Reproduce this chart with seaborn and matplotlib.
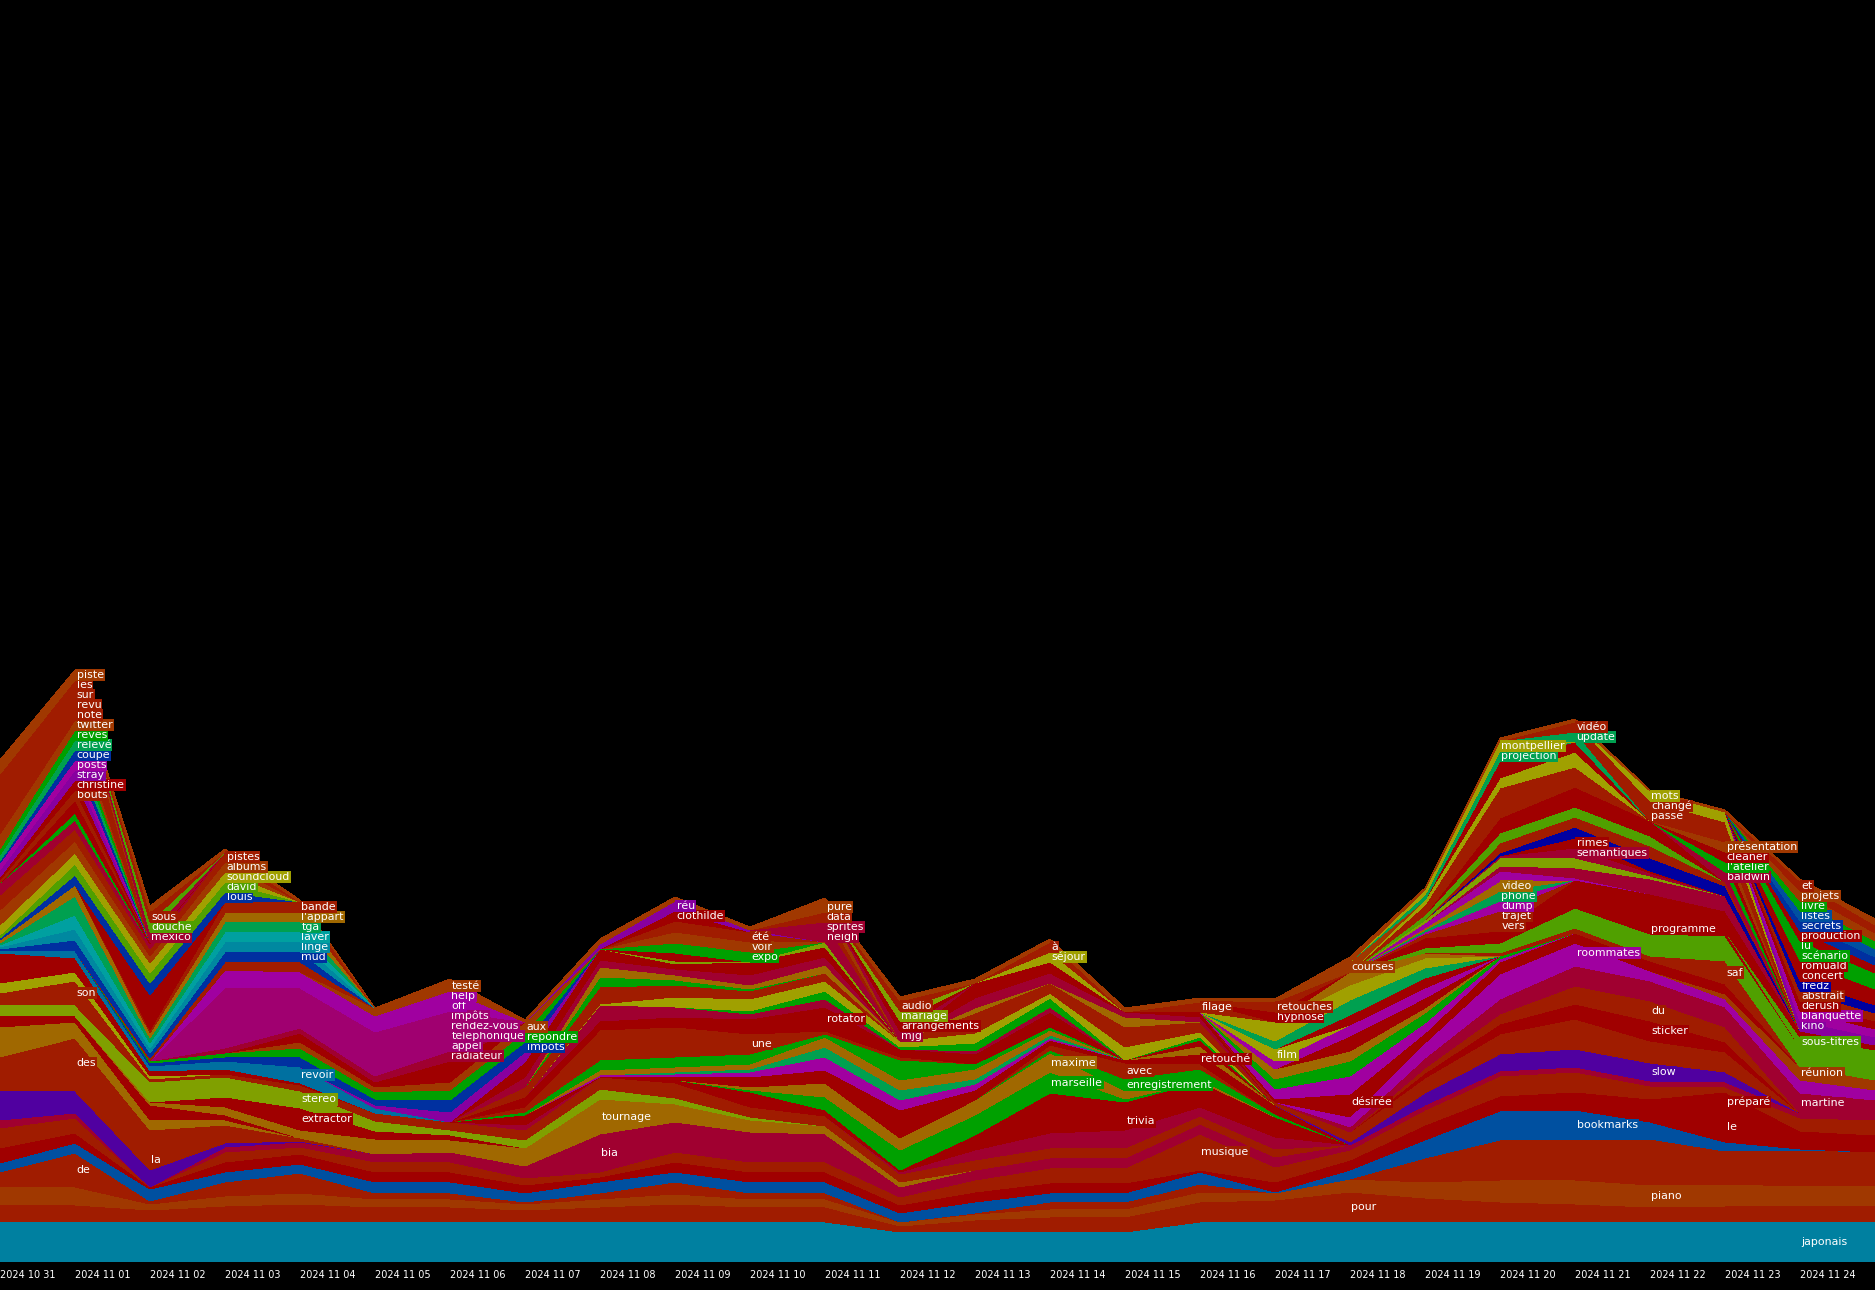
import numpy as np
import pandas as pd
import matplotlib
matplotlib.use("Agg")
import matplotlib.pyplot as plt
import seaborn as sns

# one column per day, 10 31 .. 11 24 plus the edge on the right
n_days = 26
dates = pd.date_range("2024-10-31", periods=25).strftime("%Y %m %d").tolist()

colours = {
    "jp": "#0080a0", "ru": "#a01c00", "or": "#a03800", "r": "#a00000",
    "cr": "#a00030", "am": "#a06800", "ol": "#a0a000", "yg": "#80a000",
    "lg": "#50a000", "g": "#00a000", "gt": "#00a050", "te": "#00a0a0",
    "cy": "#0088a0", "cb": "#0070a0", "bl": "#0050a0", "nv": "#0030a0",
    "in": "#0000a0", "vi": "#5000a0", "pu": "#8800a0", "mg": "#a000a0",
    "mr": "#a00070",
}

# (word, colour, day of the label or None, counts) -- bottom to top
bottom_layers = [
    ("japonais", "jp", 24, [4,4,4,4,4,4,4,4,4,4,4,4,3,3,3,3,4,4,4,4,4,4,4,4,4,4]),
    ("pour", "ru", 18, [1.7,1.7,1.2,1.6,1.8,1.5,1.5,1.2,1.5,1.8,1.5,1.5,0.6,1.2,1.5,1.5,2,2.2,3,2.4,2,1.8,1.5,1.6,1.6,1.6]),
    ("piano", "or", 22, [1.8,1.8,0.6,1,1.1,0.8,0.8,0.6,0.8,1,0.8,0.8,0.4,0.6,0.8,0.8,1,0.7,1.3,1.6,2.2,2.4,2.2,2.2,2,2]),
    ("de", "ru", 1, [1.5,3.4,0.3,1.4,2,0.6,0.6,0.2,0.6,1.2,0.6,0.6,0,0.1,0.7,0.7,0.8,0,0,2.4,4,4,4.6,3.3,3.6,3.4]),
    ("bookmarks", "bl", 21, [0.9,1,1.2,1,0.9,1.1,1.1,0.9,1.1,1,1.1,1.1,0.9,1.1,0.9,0.9,1.2,0.1,0.9,1.8,2.9,3,1.7,0.9,0.1,0]),
    ("le", "r", 23, [1.5,1,0.2,1,1,1,1,0.8,0.5,1,1,1,0.8,1,1,1,0.2,1,1,1.5,1.5,1.5,1.5,3,1.5,1.5]),
    ("préparé", "r", 23, {21: 0.3, 22: 0.8, 23: 2.0, 24: 0.3, 25: 0.2}),
    ("musique", "ru", 16, [2,1.5,0,1,0.7,1,1,0.7,0.5,1,1,1,0.8,1.2,1.5,1.5,3.6,1.5,1,1.5,2,2,1.3,0.5,1.3,1.5]),
    ("bia", "cr", 8, [0.8,0.5,0,0.5,0.5,0.8,1,1.2,3.8,3,3,2.8,1,1,1,1,1,1,0.5,0.5,0.5,0.5,0.5,0.5,0.5,0.5]),
    ("vi_a", "vi", None, {0: 3.0, 1: 2.2, 2: 1.7, 3: 0.4, 4: 0.1}),
    ("la", "ru", 2, {0: 0.3, 1: 0.3, 2: 2.0, 3: 0.8, 4: 0.3}),
    ("des", "ru", 1, {0: 3.0, 1: 5.0, 2: 2.0, 3: 1.0}),
    ("am_b", "am", None, {0: 3.0, 1: 1.6, 2: 1.0, 3: 0.5}),
    ("r_b", "r", None, {0: 1.2, 1: 0.6, 2: 1.5, 3: 0.5}),
    ("tournage", "am", 8, {2: 0.3, 3: 0.8, 4: 0.8, 5: 1.5, 6: 1.2, 7: 1.8, 8: 3.5, 9: 1.8, 10: 1.2, 11: 0.8, 12: 0.5}),
    ("extractor", "r", 4, {3: 1.0, 4: 2.2, 5: 0.8, 6: 0.5}),
    ("stereo", "yg", 4, {0: 1.0, 1: 1.1, 2: 2.0, 3: 2.0, 4: 1.7, 5: 1.0, 6: 0.5, 7: 0.8, 8: 1.0, 9: 0.6, 10: 0.3}),
    ("r_c", "ru", None, {3: 0.3, 4: 0.6, 5: 0.8, 6: 0.8, 7: 1.0, 8: 1.2, 9: 1.5, 10: 1.0, 11: 1.0, 12: 0.8, 13: 1.0, 14: 1.0, 15: 1.0, 16: 0.8, 17: 0.8}),
]

middle_layers = [
    ("ml_cr", "cr", None, {7: 0.5, 12: 0.2, 13: 1.0, 14: 1.5, 15: 1.8, 16: 0.9, 17: 1.2}),
    ("trivia", "r", 15, {13: 0.5, 14: 1.0, 15: 1.7, 16: 0.5, 17: 0.5}),
    ("ml_r1", "r", None, {7: 0.5, 9: 0.3, 10: 1.5, 11: 0.6, 12: 0.2, 13: 1.0, 14: 3.0, 15: 1.1, 16: 2.0, 17: 1.5}),
    ("marseille", "g", 14, {10: 0.2, 11: 1.3, 12: 2.0, 13: 2.0, 14: 2.1, 15: 0.3}),
    ("maxime", "am", 14, {10: 0.3, 11: 1.4, 12: 1.2, 13: 1.5, 14: 1.9, 15: 0.8, 16: 0.3}),
    ("enregistrement", "g", 15, {14: 0.3, 15: 1.2, 16: 1.0, 17: 0.3}),
    ("avec", "ru", 15, {14: 0.5, 15: 1.6, 16: 0.5}),
    ("retouché", "r", 16, {16: 1.0, 17: 0.4}),
    ("ml_r2", "r", None, {7: 0.5, 9: 0.3, 10: 1.0, 11: 1.3, 12: 2.8, 13: 1.0, 14: 0.5, 15: 0.3, 17: 0.5}),
    ("mg_m", "mg", None, {8: 0.2, 9: 0.3, 10: 0.5, 11: 1.3, 12: 1.0, 13: 0.6, 14: 0.2}),
    ("ml_gt", "gt", None, {9: 0.2, 10: 0.3, 11: 1.0, 12: 1.0, 13: 0.5, 14: 0.3}),
    ("ml_am", "am", None, {8: 0.5, 9: 0.5, 10: 0.5, 11: 1.0, 12: 1.0, 13: 1.0, 14: 0.5, 16: 0.8}),
    ("ml_g", "g", None, {7: 0.3, 8: 1.0, 9: 1.0, 10: 1.0, 11: 0.3, 12: 2.0, 13: 0.5, 14: 0.3}),
    ("une", "ru", 10, {7: 0.5, 8: 3.0, 9: 3.0, 10: 2.0, 11: 0.3, 12: 0.3}),
    ("rotator", "r", 11, {10: 0.3, 11: 2.4, 12: 0.3}),
    ("ml_r3", "r", None, {7: 1.0, 8: 0.9, 9: 1.0, 10: 1.2, 12: 0.5, 13: 1.0, 14: 1.5, 16: 0.6}),
    ("ml_cr2", "cr", None, {8: 1.6, 9: 1.0, 10: 0.5, 11: 0.8, 13: 0.3, 14: 0.5}),
    ("ml_g2", "g", None, {10: 0.3, 11: 0.8, 12: 0.2, 13: 0.8, 14: 0.9, 16: 0.3}),
    ("ml_ol", "ol", None, {8: 0.1, 9: 1.0, 10: 1.2, 11: 1.0, 12: 0.6, 13: 1.0, 14: 0.5, 15: 1.3, 16: 0.5}),
    ("ml_r4", "ru", None, {7: 1.0, 8: 1.7, 9: 1.2, 10: 0.8, 11: 0.8, 13: 2.0, 14: 1.0, 15: 2.0, 16: 1.0}),
    ("ml_g3", "g", None, {8: 1.0, 9: 0.5, 10: 0.2}),
    ("ml_am2", "am", None, {8: 1.0, 9: 0.5, 10: 0.4, 11: 0.8, 13: 0.5, 15: 1.0}),
    ("ml_cr3", "cr", None, {7: 1.0, 8: 0.7, 9: 0.6, 10: 1.0, 11: 0.8, 13: 1.0, 14: 1.0, 15: 0.5, 16: 0.5}),
    ("ml_r5", "r", None, {7: 0.9, 8: 1.1, 9: 0.5, 10: 1.3, 11: 1.0, 13: 1.5, 14: 1.1, 16: 0.5}),
    ("ml_yg", "yg", None, {9: 0.3, 11: 0.5}),
    ("ml_r6", "r", None, {9: 0.8}),
]

right_layers = [
    ("slow", "vi", 22, {18: 0.3, 19: 1.2, 20: 1.7, 21: 1.8, 22: 1.8, 23: 1.0}),
    ("r_s", "ru", None, {17: 0.3, 18: 1.0, 19: 1.5, 20: 2.0, 21: 3.0, 22: 2.2, 23: 2.0}),
    ("sticker", "r", 22, {19: 0.5, 20: 1.0, 21: 1.5, 22: 2.0, 23: 1.0}),
    ("du", "ru", 22, {19: 0.5, 20: 1.0, 21: 1.8, 22: 2.0, 23: 1.5}),
    ("cr_r", "cr", None, {18: 0.5, 19: 1.0, 20: 1.5, 21: 2.0, 22: 2.0, 23: 1.5}),
    ("martine", "cr", 24, {23: 0.5, 24: 2.0, 25: 1.5}),
    ("mg_r2", "mg", None, {18: 1.0, 19: 1.0, 20: 1.5, 21: 0.3, 22: 0.5, 23: 0.8, 24: 1.3, 25: 1.0}),
    ("roommates", "mg", 21, {19: 0.5, 20: 1.0, 21: 2.0, 22: 0.5}),
    ("réunion", "or", 24, {23: 0.5, 24: 1.3, 25: 1.0}),
    ("r_r3", "r", None, {18: 0.7, 19: 0.5, 20: 1.0, 21: 1.0, 22: 1.0, 23: 1.0}),
    ("désirée", "r", 18, {17: 0.3, 18: 1.6, 19: 0.5, 20: 0.2}),
    ("mg_r12", "mg", None, {17: 1.0, 18: 1.8, 19: 1.0, 20: 0.3}),
    ("gr_r13", "g", None, {17: 1.0, 18: 1.5, 19: 1.0, 20: 0.3}),
    ("am_r14", "am", None, {17: 1.0, 18: 1.0, 19: 0.5}),
    ("r_r15", "r", None, {18: 1.5, 19: 1.0}),
    ("mg_r16", "mg", None, {17: 0.8, 18: 1.1, 19: 1.0}),
    ("film", "ol", 17, {17: 1.2}),
    ("r_r17", "r", None, {18: 1.0, 19: 1.0}),
    ("gr_r18", "gt", None, {17: 0.8, 18: 1.5, 19: 1.0}),
    ("ol_r19", "ol", None, {17: 1.9, 18: 1.5, 19: 1.0}),
    ("am_r20", "am", None, {18: 1.3, 19: 0.5}),
    ("saf", "ru", 23, {20: 0.3, 21: 0.5, 22: 0.5, 23: 2.3}),
    ("lime_r", "lg", None, {19: 0.5, 20: 1.0, 21: 2.0, 22: 2.2, 23: 2.5, 24: 2.0, 25: 1.5}),
    ("programme", "r", 22, {20: 0.5, 21: 0.8, 22: 1.0, 23: 0.5}),
    ("sous-titres", "lg", 24, {24: 1.0, 25: 1.5}),
    ("r_r4", "r", None, {19: 1.0, 20: 0.7, 21: 2.0, 22: 3.0, 23: 2.0, 24: 0.6, 25: 0.5}),
    ("vers", "ru", 20, {19: 0.2, 20: 1.0}),
    ("trajet", "ru", 20, {19: 0.2, 20: 1.0}),
    ("dump", "mg", 20, {19: 0.2, 20: 1.0}),
    ("phone", "gt", 20, {19: 0.2, 20: 1.0}),
    ("video", "am", 20, {19: 0.2, 20: 1.0}),
    ("mg_r11", "mg", None, {19: 0.5, 20: 1.0, 21: 0.2}),
    ("cr_r4", "cr", None, {20: 0.5, 21: 1.0, 22: 1.5, 23: 1.5}),
    ("lime2", "yg", None, {19: 0.3, 20: 0.8, 21: 1.0, 22: 0.3}),
    ("sémantiques", "cr", 21, {20: 0.2, 21: 1.0, 22: 0.3}),
    ("rimes", "r", 21, {21: 1.0, 22: 0.2}),
    ("navy_r", "in", None, {20: 0.3, 21: 1.1, 22: 1.3, 23: 1.0}),
    ("r_r5", "ru", None, {20: 1.0, 21: 1.0, 22: 1.2, 23: 0.4}),
    ("gr_r6", "lg", None, {19: 0.5, 20: 1.0, 21: 1.0, 22: 1.0}),
    ("r_r7", "r", None, {20: 1.5, 21: 2.0, 22: 1.5}),
    ("r_r8", "ru", None, {19: 1.0, 20: 3.0, 21: 2.0}),
    ("ol_r9", "ol", None, {19: 0.5, 20: 1.0, 21: 1.5}),
    ("r_r10", "r", None, {20: 1.7, 21: 1.0}),
]

left_layers = [
    ("son", "ru", 1, {0: 1.2, 1: 2.4, 2: 0.3}),
    ("ol_c", "ol", None, {0: 1.0, 1: 0.9, 2: 0.3}),
    ("r_d", "r", None, {0: 3.0, 1: 1.4, 2: 0.5, 3: 0.5, 4: 0.2, 7: 0.6}),
    ("revoir", "cb", 4, {0: 0.2, 1: 0.7, 2: 0.5, 3: 0.8, 4: 1.6, 5: 0.5}),
    ("pu_l", "pu", None, {5: 0.3, 6: 1.0, 7: 1.0}),
    ("impots", "nv", 7, {2: 0.3, 3: 0.4, 4: 1.0, 5: 0.6, 6: 1.2, 7: 1.0}),
    ("répondre", "g", 7, {2: 0.2, 3: 0.4, 4: 0.9, 5: 0.7, 6: 1.0, 7: 1.0}),
    ("aux", "or", 7, {4: 0.6, 5: 0.5, 6: 0.8, 7: 1.0}),
    ("red_e", "r", None, {4: 0.9, 5: 0.5, 6: 2.1}),
    ("radiateur", "cr", 6, {3: 0.5, 4: 0.5, 5: 0.6, 6: 1.0}),
    ("appel", "mr", 6, {3: 1.5, 4: 1.0, 5: 1.1, 6: 1.0}),
    ("téléphonique", "mr", 6, {3: 1.5, 4: 1.0, 5: 1.1, 6: 1.0}),
    ("rendez-vous", "mr", 6, {3: 1.5, 4: 1.0, 5: 1.1, 6: 1.0}),
    ("impôts", "mr", 6, {3: 1.5, 4: 1.0, 5: 1.1, 6: 1.0}),
    ("off", "mg", 6, {3: 1.5, 4: 0.8, 5: 0.8, 6: 1.0}),
    ("help", "mg", 6, {3: 0.3, 4: 0.8, 5: 0.8, 6: 1.0}),
    ("testé", "or", 6, {5: 0.8, 6: 1.0}),
    ("r_f", "ru", None, {2: 0.3, 3: 0.8, 4: 1.0}),
    ("mud", "nv", 4, {0: 0.2, 1: 1.1, 2: 0.5, 3: 1.0, 4: 1.0}),
    ("linge", "cy", 4, {0: 0.2, 1: 1.1, 2: 0.5, 3: 1.0, 4: 1.0}),
    ("laver", "te", 4, {0: 0.2, 1: 1.4, 2: 0.5, 3: 1.0, 4: 1.0}),
    ("tga", "gt", 4, {0: 0.2, 1: 1.9, 2: 0.5, 3: 1.0, 4: 1.0}),
    ("l'appart", "am", 4, {0: 0.3, 1: 1.1, 2: 0.5, 3: 0.9, 4: 1.0}),
    ("bande", "ru", 4, {2: 0.3, 3: 1.1, 4: 1.0}),
    ("r_ul", "r", None, {2: 3.5}),
    ("louis", "nv", 3, {0: 0.2, 1: 1.0, 2: 1.2, 3: 1.0}),
    ("david", "lg", 3, {0: 0.3, 1: 1.1, 2: 1.0, 3: 1.0}),
    ("soundcloud", "ol", 3, {0: 1.0, 1: 1.1, 2: 1.0, 3: 1.0}),
    ("albums", "or", 3, {0: 1.5, 1: 1.2, 2: 0.7, 3: 1.0}),
    ("pistes", "ru", 3, {0: 1.5, 1: 1.2, 2: 0.7, 3: 1.0}),
    ("r_g", "cr", None, {0: 1.2, 1: 0.9, 2: 0.5}),
    ("gr_h", "g", None, {1: 0.7}),
    ("r_h", "r", None, {1: 1.3, 2: 0.2}),
    ("bouts", "ru", 1, {0: 0.3, 1: 1.0}),
    ("christine", "r", 1, {0: 0.3, 1: 1.0}),
    ("stray", "pu", 1, {0: 0.7, 1: 1.0}),
    ("posts", "mg", 1, {0: 0.7, 1: 1.0}),
    ("coupé", "nv", 1, {0: 0.2, 1: 1.0}),
    ("relevé", "gt", 1, {0: 0.6, 1: 1.0}),
    ("rêves", "g", 1, {0: 0.6, 1: 1.0}),
    ("twitter", "or", 1, {0: 1.5, 1: 1.0}),
    ("noté", "ru", 1, {0: 1.5, 1: 1.0}),
    ("revu", "ru", 1, {0: 1.5, 1: 1.0}),
    ("sur", "ru", 1, {0: 1.5, 1: 1.0}),
    ("les", "ru", 1, {0: 1.5, 1: 1.0}),
    ("piste", "or", 1, {0: 1.4, 1: 1.0}),
    ("mexico", "cr", 2, {2: 1.0}),
    ("douche", "lg", 2, {2: 1.0}),
    ("sous", "ru", 2, {2: 1.0}),
]

peak_layers = [
    ("expo", "g", 10, {9: 1.0, 10: 1.0}),
    ("voir", "or", 10, {9: 1.1, 10: 1.0}),
    ("été", "ru", 10, {9: 1.1, 10: 1.0}),
    ("clothilde", "r", 9, {9: 1.0}),
    ("réu", "pu", 9, {8: 0.5, 9: 1.0, 10: 0.2}),
    ("neigh", "cr", 11, {11: 1.0}),
    ("sprites", "cr", 11, {11: 1.0}),
    ("data", "ru", 11, {11: 1.0}),
    ("pure", "or", 11, {11: 1.0}),
    ("mjg", "cr", 12, {12: 1.0}),
    ("arrangements", "r", 12, {12: 1.0}),
    ("mariage", "yg", 12, {12: 1.0}),
    ("audio", "ru", 12, {12: 1.0}),
    ("séjour", "ol", 14, {14: 1.0}),
    ("à", "ru", 14, {14: 1.0}),
    ("filage", "ru", 16, {16: 1.0}),
    ("hypnose", "r", 17, {17: 1.0}),
    ("retouches", "ru", 17, {17: 1.0}),
    ("courses", "or", 18, {18: 1.0}),
    ("projection", "gt", 20, {19: 0.5, 20: 1.0}),
    ("montpellier", "ol", 20, {19: 0.5, 20: 1.0}),
    ("update", "gt", 21, {21: 1.0}),
    ("vidéo", "ru", 21, {21: 1.0}),
    ("baldwin", "cr", 23, {23: 1.0}),
    ("l'atelier", "g", 23, {23: 1.0}),
    ("cleaner", "r", 23, {23: 1.0}),
    ("présentation", "or", 23, {23: 1.0}),
    ("passe", "ru", 22, {22: 1.0, 23: 1.0}),
    ("changé", "ru", 22, {22: 1.0, 23: 1.0}),
    ("mots", "ol", 22, {22: 1.0, 23: 1.0}),
    ("kino", "pu", 24, {24: 1.0, 25: 0.8}),
    ("blanquette", "mg", 24, {24: 1.0, 25: 0.8}),
    ("derush", "r", 24, {24: 1.0, 25: 0.8}),
    ("abstrait", "ru", 24, {24: 1.0, 25: 0.8}),
    ("fredz", "in", 24, {24: 1.0, 25: 0.8}),
    ("concert", "r", 24, {24: 1.0, 25: 0.8}),
    ("romuald", "r", 24, {24: 1.0, 25: 0.8}),
    ("scénario", "g", 24, {24: 1.0, 25: 0.8}),
    ("lu", "g", 24, {24: 1.0, 25: 0.8}),
    ("production", "r", 24, {24: 1.0, 25: 0.8}),
    ("secrets", "nv", 24, {24: 1.0, 25: 0.8}),
    ("listes", "bl", 24, {24: 1.0, 25: 0.8}),
    ("livre", "g", 24, {24: 1.0, 25: 0.8}),
    ("projets", "or", 24, {24: 1.0, 25: 0.8}),
    ("et", "ru", 24, {24: 1.0, 25: 0.8}),
    ("crest", "or", None, [0,0,0.6,0.3,0.2,0,0.2,0.2,0.5,0.4,0.3,0.4,0.4,0.4,0.3,0.4,0.4,0.3,0.5,0.2,0.3,0.3,0.1,0.2,0.2,0.6]),
]

layers = bottom_layers + middle_layers + right_layers + left_layers + peak_layers


def expand(counts):
    row = np.zeros(n_days)
    if isinstance(counts, dict):
        for day, value in counts.items():
            row[day] = value
    else:
        row[:] = counts
    return row


df = pd.DataFrame({name: expand(c) for name, _, _, c in layers})
layer_colours = [colours[c] for _, c, _, _ in layers]

sns.set_theme(style="dark", rc={"axes.facecolor": "black", "figure.facecolor": "black"})
plt.rcParams["font.family"] = ["DejaVu Sans"]

fig = plt.figure(figsize=(18.75, 12.9), dpi=100)
ax = fig.add_axes([0, 28 / 1290, 1, 1262 / 1290])
ax.set_facecolor("black")

x = np.arange(n_days)
ax.stackplot(x, df.T.values, colors=layer_colours, linewidth=0, antialiased=False)

# word labels, in the middle of each band on its day
tops = df.cumsum(axis=1)
for name, c, day, _ in layers:
    if day is None:
        continue
    value = df.loc[day, name]
    centre = tops.loc[day, name] - value / 2
    ax.text(day + 0.02, centre, name, color="white", fontsize=7.9, ha="left", va="center",
            bbox=dict(boxstyle="square,pad=0.1", fc=colours[c], ec="none"))

ax.set_xlim(0, 25)
ax.set_ylim(0, 126.2)
ax.set_yticks([])
ax.set_xticks(range(25))
ax.set_xticklabels(dates, ha="left", color="white", fontsize=7.0)
ax.tick_params(axis="x", length=0, pad=5.5)
ax.grid(False)
sns.despine(ax=ax, left=True, bottom=True)

fig.savefig("out.png", dpi=100, facecolor="black")
